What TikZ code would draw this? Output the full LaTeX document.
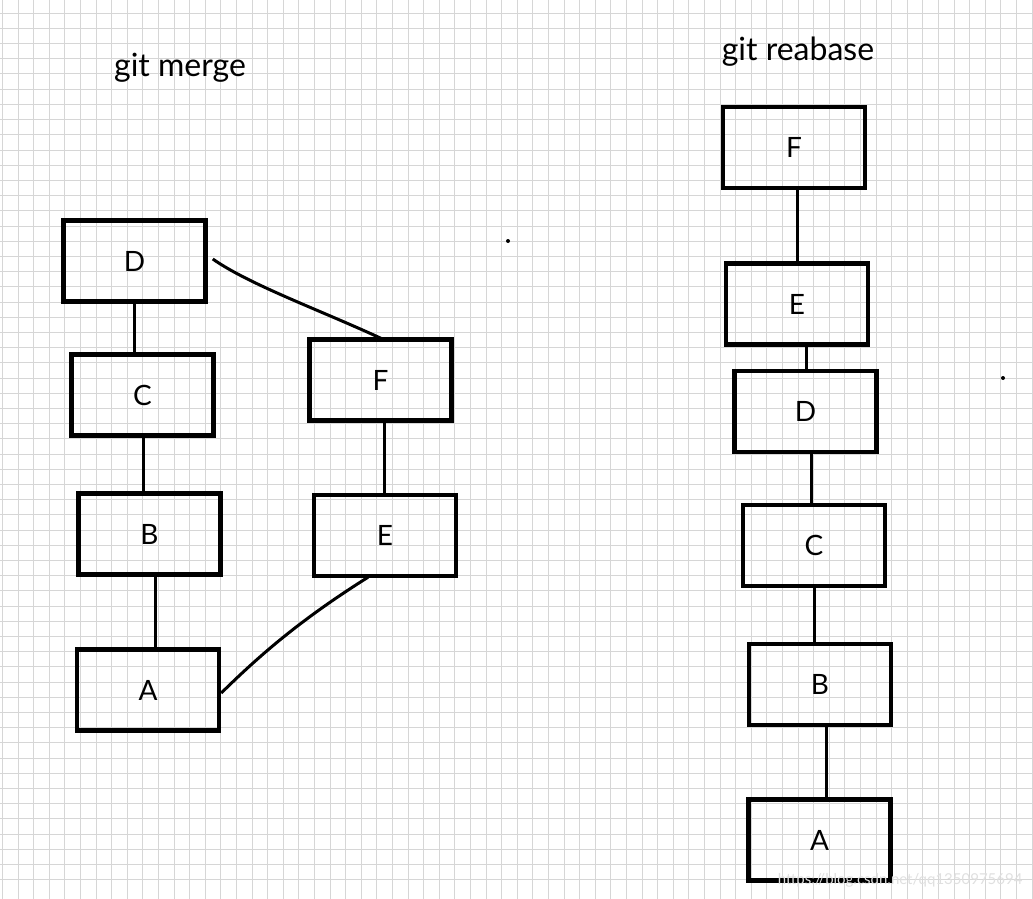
\documentclass[tikz,border=0pt]{standalone}
\usepackage{fontspec}
\setmainfont{Lato}
\begin{document}
\begin{tikzpicture}[x=1pt,y=-1pt,
  box/.style={draw=black,line width=4.5pt,minimum width=142pt,minimum height=81pt,inner sep=0pt,font=\fontsize{28}{30}\selectfont},
  link/.style={draw=black,line width=3pt},
  title/.style={font=\fontsize{32}{34}\selectfont},
  gridline/.style={draw=black!16,line width=1pt}]
\useasboundingbox (0,0) rectangle (1033,899);
\fill[white] (0,0) rectangle (1033,899);
% grid
\foreach \i in {0,...,66} {\draw[gridline] (2.5+15.6*\i,0) -- (2.5+15.6*\i,899);}
\foreach \j in {0,...,58} {\draw[gridline] (0,-2+15.2*\j) -- (1033,-2+15.2*\j);}
% titles
\node[title] (t1) at (180,68) {git merge};
\node[title] (t2) at (798,52) {git reabase};
% merge
\node[box] (mD) at (134.5,261) {D};
\node[box] (mC) at (142.5,395) {C};
\node[box] (mB) at (149.5,534) {B};
\node[box] (mA) at (148,690) {A};
\node[box] (mF) at (380.5,380) {F};
\node[box] (mE) at (385,535.5) {E};
\draw[link] (mD.south) -- (mC.north -| mD.south);
\draw[link] ([xshift=1pt]mC.south) -- ([xshift=1pt]mB.north -| mC.south);
\draw[link] ([xshift=5.5pt]mB.south) -- ([xshift=5.5pt]mA.north -| mB.south);
\draw[link] ([xshift=4pt]mF.south) -- ([xshift=4pt]mF.south |- mE.north);
\draw[link] ([xshift=0pt,yshift=-3pt]mA.east) .. controls (260,655) and (300,620) .. ([xshift=-17pt,yshift=1pt]mE.south);
\draw[link] ([xshift=5pt,yshift=2pt]mD.east) .. controls (250,285) and (320,310) .. ([xshift=2.5pt,yshift=-2pt]mF.north);
% rebase
\node[box] (rF) at (794,147.5) {F};
\node[box] (rE) at (797,304) {E};
\node[box] (rD) at (805.5,411.5) {D};
\node[box] (rC) at (814,545.5) {C};
\node[box] (rB) at (820,684.5) {B};
\node[box] (rA) at (819.5,840) {A};
\draw[link] ([xshift=3pt]rF.south) -- ([xshift=0pt]rE.north);
\draw[link] ([xshift=9pt]rE.south) -- ([xshift=0.5pt]rD.north);
\draw[link] ([xshift=5.5pt]rD.south) -- ([xshift=-3pt]rC.north);
\draw[link] ([xshift=0pt]rC.south) -- ([xshift=-6pt]rB.north);
\draw[link] ([xshift=6pt]rB.south) -- ([xshift=6.5pt]rA.north);
% dots
\fill (508,241) circle (2pt);
\fill (1003,378) circle (2pt);
% watermark
\node[anchor=east,font=\fontsize{15}{16}\selectfont,text=black!12] (wm) at (1026,880) {https://blog.csdn.net/qq1350975694};
\end{tikzpicture}
\end{document}
